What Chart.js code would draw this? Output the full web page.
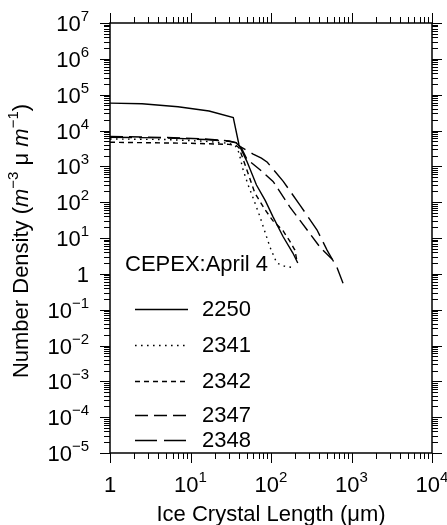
<!DOCTYPE html>
<html>
<head>
<meta charset="utf-8">
<title>CEPEX April 4 - ice crystal size spectra</title>
<script src="https://cdn.jsdelivr.net/npm/chart.js@4.4.0/dist/chart.umd.min.js"></script>
<style>
    html, body { margin: 0; padding: 0; background: #fff; }
    #wrap { width: 447px; height: 525px; }
</style>
</head>
<body>
<div id="wrap"><canvas id="sizeChart"></canvas></div>
<script>
// values: crystal length (um) and number density per time
var len2250 = [1, 2.5, 7, 17, 34, 40, 50, 66, 85, 106, 141, 187, 215];
var dens2250 = [5.8e4, 5.6e4, 4.6e4, 3.5e4, 2.3e4, 4.0e3, 1.4e3, 300, 110, 39, 11, 3.8, 2.0];

var len2341 = [1, 5, 15, 30, 36, 40, 45, 52, 60, 73, 97, 118, 150, 190];
var dens2341 = [5.8e3, 5.6e3, 5.0e3, 4.4e3, 3.8e3, 2.4e3, 800, 300, 130, 39, 5.6, 2.0, 1.6, 1.5];

var len2342 = [1, 10, 30, 37, 40, 47, 63, 85, 106, 141, 172, 198, 210];
var dens2342 = [4.7e3, 4.4e3, 4.1e3, 3.8e3, 3.3e3, 1.2e3, 180, 60, 30, 16, 8, 4.6, 2.3];

var len2347 = [1, 5, 15, 30, 37, 42, 50, 73, 106, 172, 280, 405, 590];
var dens2347 = [6.8e3, 6.4e3, 5.8e3, 5.1e3, 4.6e3, 3.6e3, 1.6e3, 800, 380, 73, 17, 5.6, 2.4];

var len2348 = [1, 5, 15, 30, 37, 41, 60, 76, 90, 142, 229, 372, 497, 660, 785];
var dens2348 = [6.5e3, 6.2e3, 5.6e3, 5.0e3, 4.5e3, 3.6e3, 2.2e3, 1.7e3, 1.3e3, 380, 83, 17, 4.6, 1.5, 0.55];

var seriesNames = ['2250', '2341', '2342', '2347', '2348'];
var xTickValues = [1, 10, 100, 1000, 10000];
var yTickValues = [1e7, 1e6, 1e5, 1e4, 1e3, 1e2, 1e1, 1, 1e-1, 1e-2, 1e-3, 1e-4, 1e-5];
var caseLabel = 'CEPEX:April 4';
var xTitle = 'Ice Crystal Length (\u03bcm)';

var FONT = '"Liberation Sans", Arial, Helvetica, sans-serif';

function toPoints(xs, ys) {
    var pts = [];
    for (var i = 0; i < xs.length; i++) {
        pts.push({ x: xs[i], y: ys[i] });
    }
    return pts;
}

function makeSet(name, xs, ys, dash) {
    return {
        label: name,
        data: toPoints(xs, ys),
        borderColor: '#000',
        borderWidth: 1.4,
        borderDash: dash,
        borderCapStyle: 'butt',
        pointRadius: 0,
        fill: false,
        tension: 0
    };
}

// exponent string for a decade value, '' for 1
function expOf(v) {
    var e = Math.round(Math.log10(v));
    if (e === 0) return null;
    return e < 0 ? '\u2212' + (-e) : String(e);
}

// draws "10" with a raised exponent; align is 'right' or 'center'
function drawPow(ctx, v, x, y, align) {
    var e = expOf(v);
    var base = e === null ? '1' : '10';
    ctx.font = '22px ' + FONT;
    var wb = ctx.measureText(base).width;
    ctx.font = '15px ' + FONT;
    var we = e === null ? 0 : ctx.measureText(e).width;
    var total = wb + we;
    var left = align === 'right' ? x - total : x - total / 2;
    ctx.textAlign = 'left';
    ctx.textBaseline = 'alphabetic';
    ctx.font = '22px ' + FONT;
    ctx.fillText(base, left, y);
    if (e !== null) {
        ctx.font = '15px ' + FONT;
        ctx.fillText(e, left + wb, y - 10);
    }
}

function logTicks(min, max) {
    var out = [];
    for (var d = Math.round(Math.log10(min)); d <= Math.round(Math.log10(max)); d++) {
        for (var k = 1; k <= 9; k++) {
            var v = k * Math.pow(10, d);
            if (v > max * 1.0001) break;
            out.push({ v: v, major: k === 1 });
        }
    }
    return out;
}

var frameAxes = {
    id: 'frameAxes',
    afterDatasetsDraw: function(chart) {
        var ctx = chart.ctx;
        var a = chart.chartArea;
        var xs = chart.scales.x;
        var ys = chart.scales.y;
        ctx.save();
        ctx.strokeStyle = '#000';
        ctx.fillStyle = '#000';
        ctx.setLineDash([]);

        function seg(x1, y1, x2, y2) {
            ctx.beginPath();
            ctx.moveTo(x1, y1);
            ctx.lineTo(x2, y2);
            ctx.stroke();
        }

        // ticks, pointing outward on all four sides
        ctx.lineWidth = 1;
        logTicks(xs.min, xs.max).forEach(function(t) {
            var px = Math.round(xs.getPixelForValue(t.v)) + 0.5;
            var len = t.major ? 10 : 6;
            seg(px, a.bottom, px, a.bottom + len);
            seg(px, a.top, px, a.top - len);
        });
        logTicks(ys.min, ys.max).forEach(function(t) {
            var py = Math.round(ys.getPixelForValue(t.v)) + 0.5;
            var len = t.major ? 10 : 6;
            seg(a.left, py, a.left - len, py);
            seg(a.right, py, a.right + len, py);
        });

        ctx.lineWidth = 1.5;
        ctx.strokeRect(a.left, a.top, a.right - a.left, a.bottom - a.top);

        // tick labels
        xTickValues.forEach(function(v) {
            drawPow(ctx, v, xs.getPixelForValue(v), a.bottom + 39, 'center');
        });
        yTickValues.forEach(function(v) {
            drawPow(ctx, v, a.left - 21, ys.getPixelForValue(v) + 8, 'right');
        });

        // x title
        ctx.font = '22px ' + FONT;
        ctx.textAlign = 'center';
        ctx.textBaseline = 'alphabetic';
        ctx.fillText(xTitle, (a.left + a.right) / 2, 521);

        // y title, rotated, with italic m and superscripts
        var parts = [
            { t: 'Number Density (', f: '22px ' + FONT, dy: 0 },
            { t: 'm', f: 'italic 22px ' + FONT, dy: 0 },
            { t: '\u22123', f: '15px ' + FONT, dy: -10 },
            { t: ' \u03bc ', f: '22px ' + FONT, dy: 0 },
            { t: 'm', f: 'italic 22px ' + FONT, dy: 0 },
            { t: '\u22121', f: '15px ' + FONT, dy: -10 },
            { t: ')', f: '22px ' + FONT, dy: 0 }
        ];
        var total = 0;
        parts.forEach(function(p) {
            ctx.font = p.f;
            p.w = ctx.measureText(p.t).width;
            total += p.w;
        });
        ctx.translate(28, 241);
        ctx.rotate(-Math.PI / 2);
        ctx.textAlign = 'left';
        var cx = -total / 2;
        parts.forEach(function(p) {
            ctx.font = p.f;
            ctx.fillText(p.t, cx, p.dy);
            cx += p.w;
        });
        ctx.restore();

        // in-plot legend
        ctx.save();
        ctx.fillStyle = '#000';
        ctx.strokeStyle = '#000';
        ctx.font = '22px ' + FONT;
        ctx.textBaseline = 'middle';
        ctx.textAlign = 'left';
        ctx.fillText(caseLabel, 125, 265);
        var rowY = [309, 345, 381, 415, 440];
        chart.data.datasets.forEach(function(ds, i) {
            ctx.lineWidth = ds.borderWidth;
            ctx.setLineDash(ds.borderDash);
            ctx.beginPath();
            ctx.moveTo(135, rowY[i] + 0.5);
            ctx.lineTo(188, rowY[i] + 0.5);
            ctx.stroke();
            ctx.setLineDash([]);
            ctx.fillText(ds.label, 202, rowY[i] + 1);
        });
        ctx.restore();
    }
};

var ctx = document.getElementById('sizeChart').getContext('2d');
var sizeChart = new Chart(ctx, {
    type: 'line',
    data: {
        datasets: [
            makeSet(seriesNames[0], len2250, dens2250, []),
            makeSet(seriesNames[1], len2341, dens2341, [1.6, 4.4]),
            makeSet(seriesNames[2], len2342, dens2342, [5, 4]),
            makeSet(seriesNames[3], len2347, dens2347, [13, 6]),
            makeSet(seriesNames[4], len2348, dens2348, [22, 7])
        ]
    },
    options: {
        responsive: true,
        maintainAspectRatio: false,
        animation: false,
        devicePixelRatio: 1,
        layout: { padding: { left: 110, right: 15, top: 23, bottom: 72 } },
        plugins: {
            legend: { display: false },
            tooltip: { enabled: false }
        },
        scales: {
            x: { type: 'logarithmic', min: 1, max: 1e4, display: false },
            y: { type: 'logarithmic', min: 1e-5, max: 1e7, display: false }
        }
    },
    plugins: [frameAxes]
});
</script>
</body>
</html>
